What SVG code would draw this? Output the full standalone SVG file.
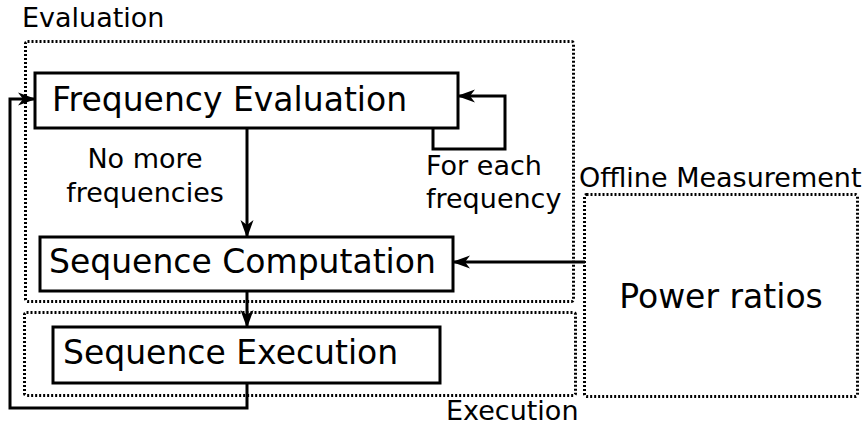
<svg xmlns="http://www.w3.org/2000/svg" width="863" height="425" viewBox="0 0 863 425">
<style>
.box{fill:#fff;stroke:#000;stroke-width:3}
.region{fill:none;stroke:#000;stroke-width:3;stroke-dasharray:2,2}
.big{font-family:"DejaVu Sans",sans-serif;font-size:33px;fill:#000}
.small{font-family:"DejaVu Sans",sans-serif;font-size:27px;fill:#000}
.conn{fill:none;stroke:#000;stroke-width:3}
</style>
<defs>
<marker id="arr" markerUnits="userSpaceOnUse" markerWidth="20" markerHeight="14" refX="17" refY="6.5" orient="auto" viewBox="0 0 20 13">
<path d="M18,6.5 L0,0 L5,6.5 L0,13 Z" fill="#000"/>
</marker>
</defs>
<g id="region-evaluation">
<rect class="region" x="25.5" y="41.5" width="548" height="260" rx="2"/>
<text class="small" x="22" y="27">Evaluation</text>
</g>
<g id="region-execution">
<rect class="region" x="24.5" y="312.5" width="551" height="83" rx="2"/>
<text class="small" x="446" y="420">Execution</text>
</g>
<g id="region-offline">
<rect class="region" x="584.5" y="194.5" width="273" height="202" rx="2"/>
<text class="small" x="579" y="187">Offline Measurement</text>
</g>
<g id="connectors">
<path class="conn" d="M247,128 V237" marker-end="url(#arr)"/>
<path class="conn" d="M247,291 V327" marker-end="url(#arr)"/>
<path class="conn" d="M433,128 V149 H505 V96 H458" marker-end="url(#arr)"/>
<path class="conn" d="M247,383 V408 H10 V99 H35" marker-end="url(#arr)"/>
<path class="conn" d="M585,262 H453" marker-end="url(#arr)"/>
</g>
<g id="node-freq-eval">
<rect class="box" x="35" y="73" width="423" height="55"/>
<text class="big" x="52" y="111">Frequency Evaluation</text>
</g>
<g id="node-seq-comp">
<rect class="box" x="40" y="237" width="413" height="54"/>
<text class="big" x="49" y="273">Sequence Computation</text>
</g>
<g id="node-seq-exec">
<rect class="box" x="53" y="327" width="387" height="56"/>
<text class="big" x="63" y="364">Sequence Execution</text>
</g>
<g id="node-power">
<text class="big" x="721" y="308" text-anchor="middle">Power ratios</text>
</g>
<g id="label-no-more">
<text class="small" x="145" y="168" text-anchor="middle">No more</text>
<text class="small" x="145" y="202" text-anchor="middle">frequencies</text>
</g>
<g id="label-for-each">
<text class="small" x="426" y="175">For each</text>
<text class="small" x="426" y="208">frequency</text>
</g>
</svg>
